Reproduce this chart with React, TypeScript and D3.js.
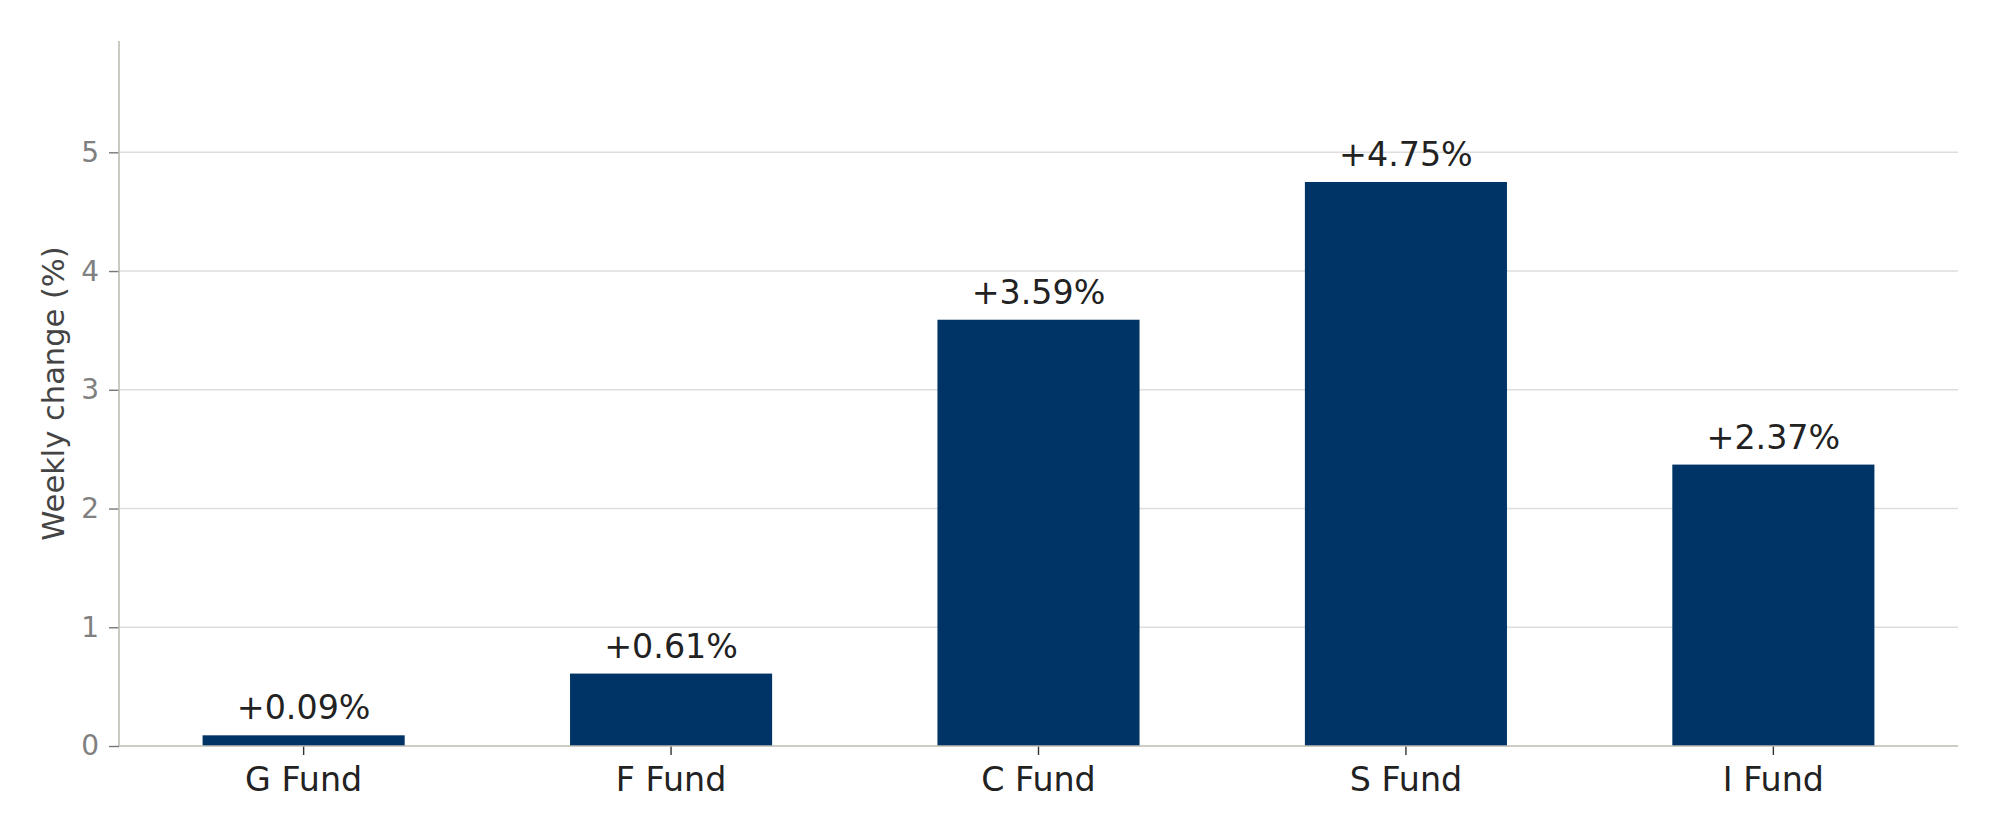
import { useRef, useEffect } from 'react';
import * as d3 from 'd3';

const FUNDS = ['G Fund', 'F Fund', 'C Fund', 'S Fund', 'I Fund'];
const WEEKLY_CHANGE = [0.09, 0.61, 3.59, 4.75, 2.37];
const Y_TICKS = [0, 1, 2, 3, 4, 5];

const WIDTH = 2000;
const HEIGHT = 840;
const MARGIN = { top: 41, right: 42, bottom: 94, left: 119 };
const BAR_COLOR = '#003366';
const FONT = '"DejaVu Sans", sans-serif';

export default function App() {
  const svgRef = useRef<SVGSVGElement>(null);

  useEffect(() => {
    if (!svgRef.current) return;
    const svg = d3.select(svgRef.current);
    svg.selectAll('*').remove();

    const innerW = WIDTH - MARGIN.left - MARGIN.right;
    const innerH = HEIGHT - MARGIN.top - MARGIN.bottom;

    const x = d3.scaleBand<string>()
      .domain(FUNDS)
      .range([0, innerW])
      .paddingInner(0.45)
      .paddingOuter(0.2275);

    const yMax = (d3.max(WEEKLY_CHANGE) ?? 1) * 1.25;
    const y = d3.scaleLinear().domain([0, yMax]).range([innerH, 0]);

    const g = svg.append('g').attr('transform', `translate(${MARGIN.left},${MARGIN.top})`);

    // grid
    g.append('g')
      .selectAll('line')
      .data(Y_TICKS.filter(t => t > 0))
      .enter()
      .append('line')
      .attr('x1', 0)
      .attr('x2', innerW)
      .attr('y1', d => y(d))
      .attr('y2', d => y(d))
      .attr('stroke', '#dddddd')
      .attr('stroke-width', 1.4);

    // bars
    g.append('g')
      .selectAll('rect')
      .data(FUNDS)
      .enter()
      .append('rect')
      .attr('x', d => x(d) ?? 0)
      .attr('width', x.bandwidth())
      .attr('y', (_, i) => y(WEEKLY_CHANGE[i]))
      .attr('height', (_, i) => innerH - y(WEEKLY_CHANGE[i]))
      .attr('fill', BAR_COLOR);

    // value labels
    g.append('g')
      .selectAll('text')
      .data(FUNDS)
      .enter()
      .append('text')
      .attr('x', d => (x(d) ?? 0) + x.bandwidth() / 2)
      .attr('y', (_, i) => y(WEEKLY_CHANGE[i]) - 16)
      .attr('text-anchor', 'middle')
      .attr('font-family', FONT)
      .attr('font-size', 33.3)
      .attr('fill', '#222222')
      .text((_, i) => `+${WEEKLY_CHANGE[i].toFixed(2)}%`);

    // y axis
    const yAxis = g.append('g')
      .call(d3.axisLeft(y).tickValues(Y_TICKS).tickSize(10).tickPadding(10).tickFormat(d => String(d)));
    yAxis.select('.domain').remove();
    yAxis.selectAll('line').attr('stroke', '#777777').attr('stroke-width', 1.4);
    yAxis.selectAll('text')
      .attr('font-family', FONT)
      .attr('font-size', 28)
      .attr('fill', '#808080');

    // x axis
    const xAxis = g.append('g')
      .attr('transform', `translate(0,${innerH})`)
      .call(d3.axisBottom(x).tickSize(9).tickPadding(12));
    xAxis.select('.domain').remove();
    xAxis.selectAll('line').attr('stroke', '#333333').attr('stroke-width', 1.4);
    xAxis.selectAll('text')
      .attr('font-family', FONT)
      .attr('font-size', 33.3)
      .attr('fill', '#222222');

    // spines
    g.append('line')
      .attr('x1', 0).attr('x2', 0)
      .attr('y1', 0).attr('y2', innerH)
      .attr('stroke', '#bdbdb3')
      .attr('stroke-width', 1.6);
    g.append('line')
      .attr('x1', 0).attr('x2', innerW)
      .attr('y1', innerH).attr('y2', innerH)
      .attr('stroke', '#bdbdb3')
      .attr('stroke-width', 1.6);

    // y label
    svg.append('text')
      .attr('transform', `translate(55,${MARGIN.top + innerH / 2}) rotate(-90)`)
      .attr('text-anchor', 'middle')
      .attr('dominant-baseline', 'middle')
      .attr('font-family', FONT)
      .attr('font-size', 30.5)
      .attr('fill', '#444444')
      .text('Weekly change (%)');
  }, []);

  return (
    <div style={{ position: 'absolute', left: 0, top: 0 }}>
      <svg ref={svgRef} width={WIDTH} height={HEIGHT} style={{ display: 'block', background: '#ffffff' }} />
    </div>
  );
}
